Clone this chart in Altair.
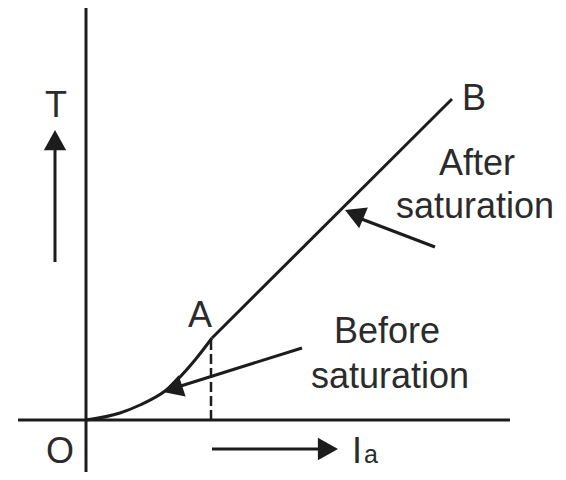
import altair as alt
import pandas as pd

# Coordinates in diagram units (origin O at 0,0)
# curved part O -> A
curve_x = [0, 34, 54, 79, 109, 126]
curve_y = [0, 7, 15, 29, 60, 82]
# straight part A -> B
line_x = [126, 366]
line_y = [82, 321]

# straight segments: axes and arrow shafts
seg_name = ["y-axis", "x-axis", "T arrow", "Ia arrow", "before arrow", "after arrow"]
seg_x1 = [0, -68, -31, 126, 216, 349]
seg_y1 = [-56, 0, 158, -29, 72, 173]
seg_x2 = [0, 424, -31, 246, 82, 265]
seg_y2 = [413, 0, 284, -29, 30, 205]

# dashed projection from A
dash_x = [125, 125]
dash_y = [0, 82]

# arrow heads (tip positions, direction in degrees clockwise from up)
head_x = [-31, 252, 77, 259]
head_y = [290, -29, 28, 210]
head_angle = [0, 90, 252, 293]

# labels
lab_text = ["T", "O", "A", "B", "After", "saturation", "Before", "saturation"]
lab_x = [-30, -26, 114, 388, 391, 389, 301, 304]
lab_y = [303, -43, 93, 310, 245, 202, 77, 32]

ia_text = ["I", "a"]
ia_x = [266, 278]
ia_y = [-43, -43]
ia_size = [36, 25]

X = alt.Scale(domain=[-78, 472], nice=False, zero=False)
Y = alt.Scale(domain=[-52, 412], nice=False, zero=False)
INK = "#1c1c1c"
TXT = "#2b2b2b"

curve_df = pd.DataFrame({"x": curve_x, "y": curve_y})
line_df = pd.DataFrame({"x": line_x, "y": line_y})
seg_df = pd.DataFrame({"name": seg_name, "x": seg_x1, "y": seg_y1, "x2": seg_x2, "y2": seg_y2})
dash_df = pd.DataFrame({"x": [dash_x[0]], "y": [dash_y[0]], "x2": [dash_x[1]], "y2": [dash_y[1]]})
head_df = pd.DataFrame({"x": head_x, "y": head_y, "a": head_angle})
lab_df = pd.DataFrame({"t": lab_text, "x": lab_x, "y": lab_y})
ia_df = pd.DataFrame({"t": ia_text, "x": ia_x, "y": ia_y, "s": ia_size})

segs = alt.Chart(seg_df).mark_rule(color=INK, strokeWidth=3).encode(
    x=alt.X("x:Q", scale=X, axis=None),
    y=alt.Y("y:Q", scale=Y, axis=None),
    x2="x2:Q",
    y2="y2:Q",
)

dash = alt.Chart(dash_df).mark_rule(color=INK, strokeWidth=2.5, strokeDash=[10, 4]).encode(
    x=alt.X("x:Q", scale=X, axis=None),
    y=alt.Y("y:Q", scale=Y, axis=None),
    x2="x2:Q",
    y2="y2:Q",
)

curve = alt.Chart(curve_df).mark_line(color=INK, strokeWidth=3, interpolate="monotone").encode(
    x=alt.X("x:Q", scale=X, axis=None),
    y=alt.Y("y:Q", scale=Y, axis=None),
    order="x:Q",
)

straight = alt.Chart(line_df).mark_line(color=INK, strokeWidth=3).encode(
    x=alt.X("x:Q", scale=X, axis=None),
    y=alt.Y("y:Q", scale=Y, axis=None),
    order="x:Q",
)

heads = alt.Chart(head_df).mark_point(
    shape="M0,0L1,1.8L-1,1.8Z", filled=True, color=INK, opacity=1, size=500, strokeWidth=0
).encode(
    x=alt.X("x:Q", scale=X, axis=None),
    y=alt.Y("y:Q", scale=Y, axis=None),
    angle=alt.Angle("a:Q", scale=None),
)

labels = alt.Chart(lab_df).mark_text(
    font="Liberation Sans", fontSize=36, color=TXT, align="center", baseline="alphabetic"
).encode(
    x=alt.X("x:Q", scale=X, axis=None),
    y=alt.Y("y:Q", scale=Y, axis=None),
    text="t:N",
)

ia = alt.Chart(ia_df).mark_text(
    font="Liberation Sans", color=TXT, align="left", baseline="alphabetic"
).encode(
    x=alt.X("x:Q", scale=X, axis=None),
    y=alt.Y("y:Q", scale=Y, axis=None),
    text="t:N",
    size=alt.Size("s:Q", scale=None),
)

chart = alt.layer(segs, dash, curve, straight, heads, labels, ia).properties(
    width=550, height=464, autosize=alt.AutoSizeParams(type="none"), padding=0
).configure_view(stroke=None)

chart.save("out.html", embed_options={"renderer": "svg", "actions": False})
